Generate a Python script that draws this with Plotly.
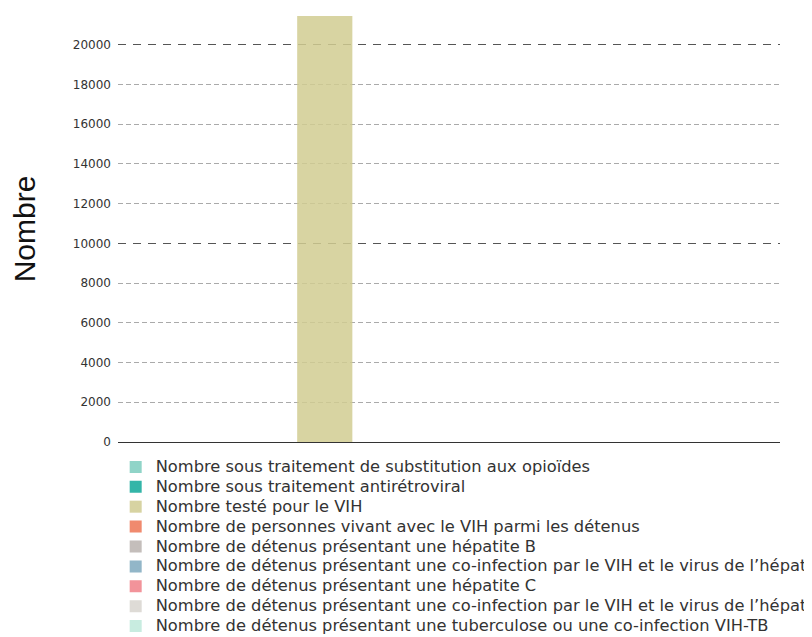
import plotly.graph_objects as go

# one category, nine indicators; only the HIV tests have a value
categories = [""]
series_names = [
    "Nombre sous traitement de substitution aux opioïdes",
    "Nombre sous traitement antirétroviral",
    "Nombre testé pour le VIH",
    "Nombre de personnes vivant avec le VIH parmi les détenus",
    "Nombre de détenus présentant une hépatite B",
    "Nombre de détenus présentant une co-infection par le VIH et le virus de l’hépatite B",
    "Nombre de détenus présentant une hépatite C",
    "Nombre de détenus présentant une co-infection par le VIH et le virus de l’hépatite C",
    "Nombre de détenus présentant une tuberculose ou une co-infection VIH-TB",
]
series_values = [None, None, 21450, None, None, None, None, None, None]
colors = ["#90d4c8", "#33b5a8", "#d8d4a2", "#f08a6e", "#c4bebb",
          "#92b6c8", "#f2939a", "#dedbd6", "#c8ece0"]

fig = go.Figure()
for name, val, col in zip(series_names, series_values, colors):
    # bigger text than the legend font so rows stay 20px apart
    label = '<span style="font-size:16.3px">' + name + '</span>'
    fig.add_trace(go.Bar(x=categories, y=[val], name=label, marker_color=col,
                         marker_line_width=0))

# the visible bar is slightly see-through so the grid shows across it
fig.data[2].marker.color = "#d1cc92"
fig.data[2].opacity = 0.85

# empty trace so the overlaid grid axis gets drawn
fig.add_trace(go.Scatter(x=categories, y=[None], yaxis="y2", showlegend=False,
                         hoverinfo="skip"))

fig.update_layout(
    width=812, height=637,
    margin=dict(l=110, r=40, t=8, b=203, autoexpand=False),
    paper_bgcolor="white", plot_bgcolor="white",
    barmode="group", bargap=0.25,
    font=dict(family="DejaVu Sans", color="#333"),
    showlegend=True,
    legend=dict(x=-0.0035, xanchor="left", y=-0.0233, yanchor="top",
                font=dict(size=13, color="#333"), traceorder="normal"),
    xaxis=dict(showticklabels=False, showgrid=False, showline=True,
               linecolor="#333", linewidth=1, range=[-0.479, 0.521]),
    # labels only
    yaxis=dict(range=[0, 21450], dtick=2000, tickformat="d",
               tickfont=dict(size=12, color="#333"),
               showgrid=False, zeroline=False,
               ticks="", ticklabelstandoff=6,
               title=dict(text="Nombre", font=dict(family="Liberation Sans", size=30, color="#111"), standoff=30)),
    # grid: heavier dashes every 10000, light short dashes every 2000
    yaxis2=dict(overlaying="y", range=[0, 21450], dtick=10000, showticklabels=False,
                gridcolor="#555555", griddash="8px,7px", zeroline=False, showgrid=True,
                minor=dict(dtick=2000, showgrid=True, gridcolor="#aaaaaa",
                           griddash="5px,3px", ticks="")),
)

fig.write_html("out.html")
